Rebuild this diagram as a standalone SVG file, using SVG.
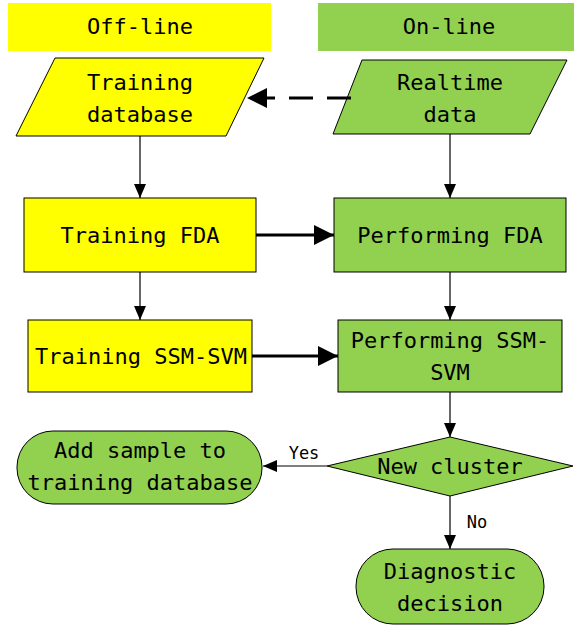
<svg xmlns="http://www.w3.org/2000/svg" width="574" height="625" viewBox="0 0 574 625">
<defs>
<style>
.t{font-family:"DejaVu Sans Mono","Liberation Mono",monospace;font-size:22px;fill:#000;text-anchor:middle}
.s{font-family:"DejaVu Sans Mono","Liberation Mono",monospace;font-size:17px;fill:#000;text-anchor:middle}
.y{fill:#FFFF00;stroke:#000;stroke-width:1}
.g{fill:#92D050;stroke:#000;stroke-width:1}
.thin{stroke:#000;stroke-width:1.2;fill:none;marker-end:url(#ah)}
.thick{stroke:#000;stroke-width:3;fill:none;marker-end:url(#ahb)}
</style>
<marker id="ah" markerUnits="userSpaceOnUse" markerWidth="14" markerHeight="12" refX="14" refY="6" orient="auto"><path d="M0,0 L14,6 L0,12 z" fill="#000"/></marker>
<marker id="ahb" markerUnits="userSpaceOnUse" markerWidth="20" markerHeight="20" refX="20" refY="10" orient="auto"><path d="M0,0 L20,10 L0,20 z" fill="#000"/></marker>
</defs>
<g id="hdr-offline"><rect x="8" y="3" width="263" height="48" fill="#FFFF00"/><text class="t" x="140" y="34">Off-line</text></g>
<g id="hdr-online"><rect x="318" y="3" width="256" height="48" fill="#92D050"/><text class="t" x="449" y="34">On-line</text></g>
<g id="training-db"><polygon class="y" points="55,58 264,58 226,136 16,136"/><text class="t" x="140" y="90">Training</text><text class="t" x="140" y="122">database</text></g>
<g id="realtime"><polygon class="g" points="362,60 567,60 530,134 333,134"/><text class="t" x="450" y="90">Realtime</text><text class="t" x="450" y="122">data</text></g>
<g id="train-fda"><rect class="y" x="24" y="198" width="232" height="74"/><text class="t" x="140" y="243">Training FDA</text></g>
<g id="perf-fda"><rect class="g" x="334" y="198" width="232" height="74"/><text class="t" x="450" y="243">Performing FDA</text></g>
<g id="train-svm"><rect class="y" x="28" y="320" width="224" height="72"/><text class="t" x="141" y="364">Training SSM-SVM</text></g>
<g id="perf-svm"><rect class="g" x="338" y="320" width="224" height="72"/><text class="t" x="450" y="348">Performing SSM-</text><text class="t" x="450" y="380">SVM</text></g>
<g id="new-cluster"><polygon class="g" points="450,437 573,466 450,496 327,466"/><text class="t" x="450" y="474">New cluster</text></g>
<g id="add-sample"><rect class="g" x="17" y="431" width="245" height="73" rx="36" ry="36"/><text class="t" x="140" y="458">Add sample to</text><text class="t" x="140" y="490">training database</text></g>
<g id="diag"><rect class="g" x="356" y="549" width="188" height="75" rx="37" ry="37"/><text class="t" x="450" y="579">Diagnostic</text><text class="t" x="450" y="611">decision</text></g>
<g id="connectors">
<line x1="351" y1="98" x2="247" y2="98" stroke="#000" stroke-width="3" stroke-dasharray="24 14" marker-end="url(#ahb)"/>
<line class="thin" x1="140" y1="136" x2="140" y2="198"/>
<line class="thin" x1="450" y1="134" x2="450" y2="198"/>
<line class="thick" x1="256" y1="235" x2="334" y2="235"/>
<line class="thin" x1="140" y1="272" x2="140" y2="320"/>
<line class="thin" x1="450" y1="272" x2="450" y2="320"/>
<line class="thick" x1="252" y1="356" x2="338" y2="356"/>
<line class="thin" x1="450" y1="392" x2="450" y2="437"/>
<line class="thin" x1="327" y1="466" x2="263" y2="466"/>
<line class="thin" x1="450" y1="496" x2="450" y2="549"/>
<text class="s" x="304" y="459">Yes</text>
<text class="s" x="477" y="528">No</text>
</g>
</svg>
